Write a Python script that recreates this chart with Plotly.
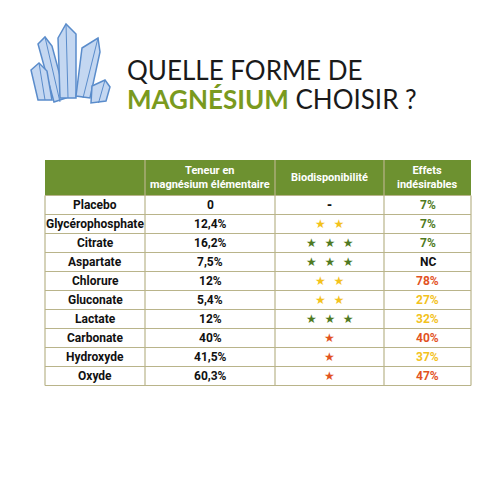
import plotly.graph_objects as go

forms = ["Placebo","Glycérophosphate","Citrate","Aspartate","Chlorure","Gluconate","Lactate","Carbonate","Hydroxyde","Oxyde"]
teneur = ["0","12,4%","16,2%","7,5%","12%","5,4%","12%","40%","41,5%","60,3%"]
stars = [0,2,3,3,2,2,3,1,1,1]
effets = ["7%","7%","7%","NC","78%","27%","32%","40%","37%","47%"]
headers = ["", "Teneur en<br>magnésium élémentaire", "Biodisponibilité", "Effets<br>indésirables"]

GREEN = "#6d9130"; DGREEN = "#4f7a22"; YEL = "#f3c21c"; ORG = "#e2531f"
star_col = {1: ORG, 2: YEL, 3: DGREEN}
def eff_col(e):
    if e == "NC": return "#111"
    v = int(e[:-1])
    if v < 10: return DGREEN
    if v in (27, 32, 37): return YEL
    return ORG

W = 500
def px(x): return x / W
def py(y): return 1 - y / W

fig = go.Figure()
shapes = []; ann = []
FONT = "Roboto, Arial"
cols = [37, 137, 267, 376, 463]
top, hb = 152, 187.5
rh = 19
bottom = hb + rh * len(forms)

shapes.append(dict(type="rect", xref="paper", yref="paper", x0=px(cols[0]), x1=px(cols[-1]), y0=py(hb), y1=py(top), fillcolor=GREEN, line=dict(width=0), layer="below"))
lc = "#b9b48a"
for i in range(len(forms) + 1):
    y = hb + rh * i
    shapes.append(dict(type="line", xref="paper", yref="paper", x0=px(cols[0]), x1=px(cols[-1]), y0=py(y), y1=py(y), line=dict(color=lc, width=1.2)))
for j, x in enumerate(cols):
    shapes.append(dict(type="line", xref="paper", yref="paper", x0=px(x), x1=px(x), y0=py(bottom), y1=py(hb if j in (0, 4) else top), line=dict(color=lc, width=1.2)))

for j, h in enumerate(headers):
    if h:
        ann.append(dict(x=px((cols[j] + cols[j+1]) / 2), y=py((top + hb) / 2), text=f"<b>{h}</b>", font=dict(family=FONT, size=11, color="white")))

for i, f in enumerate(forms):
    yc = py(hb + rh * i + rh / 2)
    ann.append(dict(x=px((cols[0]+cols[1])/2), y=yc, text=f"<b>{f}</b>", font=dict(family=FONT, size=12, color="#111")))
    ann.append(dict(x=px((cols[1]+cols[2])/2), y=yc, text=f"<b>{teneur[i]}</b>", font=dict(family=FONT, size=12, color="#111")))
    s = "<b>-</b>" if stars[i] == 0 else "&nbsp;&nbsp;".join(["★"] * stars[i])
    ann.append(dict(x=px((cols[2]+cols[3])/2), y=yc, text=s, font=dict(family="DejaVu Sans", size=12, color=star_col.get(stars[i], "#111"))))
    ann.append(dict(x=px((cols[3]+cols[4])/2), y=yc, text=f"<b>{effets[i]}</b>", font=dict(family=FONT, size=12, color=eff_col(effets[i]))))

for a in ann:
    a.update(xref="paper", yref="paper", showarrow=False, xanchor="center", yanchor="middle")

ann.append(dict(x=px(117), y=py(62), xref="paper", yref="paper", showarrow=False, xanchor="left", yanchor="middle",
                text="QUELLE FORME DE", font=dict(family="Lato, Open Sans", size=26, color="#1a1a1a")))
ann.append(dict(x=px(117), y=py(91), xref="paper", yref="paper", showarrow=False, xanchor="left", yanchor="middle",
                text=f"<b><span style='color:#7a9a1e'>MAGNÉSIUM</span></b> CHOISIR ?", font=dict(family="Lato, Open Sans", size=26, color="#1a1a1a")))

# crystal icon
crystals = [
    [(30,36),(37,29),(44,38),(58,90),(46,94)],
    [(50,30),(58,16),(68,26),(68,90),(52,90)],
    [(74,40),(90,30),(92,44),(82,90),(68,88)],
    [(23,62),(31,55),(39,63),(44,92),(30,92)],
    [(84,78),(97,72),(102,79),(98,93),(83,95)],
]
for poly in crystals:
    path = "M " + " L ".join(f"{px(x)},{py(y)}" for x, y in poly) + " Z"
    shapes.append(dict(type="path", xref="paper", yref="paper", path=path, fillcolor="#c4d7f1", line=dict(color="#5a8ccb", width=1.5)))
    x0, y0 = poly[1]
    shapes.append(dict(type="line", xref="paper", yref="paper", x0=px(x0), y0=py(y0), x1=px((poly[3][0]+poly[4][0])/2), y1=py(max(poly[3][1], poly[4][1])), line=dict(color="#5a8ccb", width=1)))

fig.update_layout(width=500, height=500, margin=dict(l=0, r=0, t=0, b=0), paper_bgcolor="white", plot_bgcolor="white",
                  xaxis=dict(visible=False), yaxis=dict(visible=False), shapes=shapes, annotations=ann, showlegend=False)
fig.write_html("out.html")
